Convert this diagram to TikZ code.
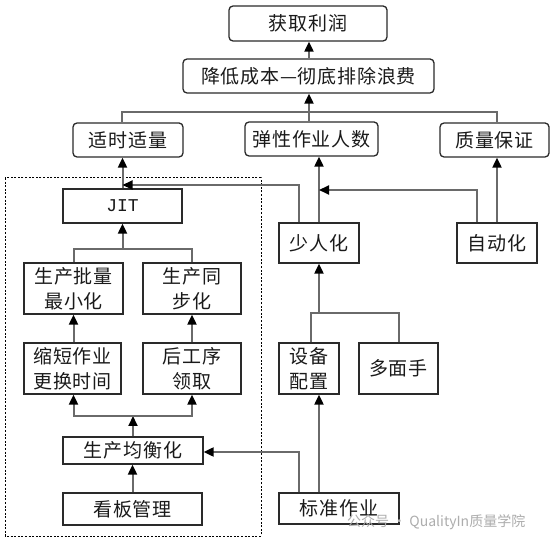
\documentclass[tikz,border=0pt]{standalone}
\usepackage{fontspec}
\newfontfamily\cjk[LetterSpace=4]{Noto Sans CJK SC}
\newfontfamily\cjkwm{Noto Sans CJK SC}
\newfontfamily\jitfont{Liberation Mono}
\usetikzlibrary{arrows.meta}
\definecolor{boxline}{HTML}{2A2A2A}
\definecolor{connline}{HTML}{6A6A6A}
\definecolor{txt}{HTML}{1A1A1A}
\begin{document}
\begin{tikzpicture}[x=1pt,y=-1pt,
  box/.style={draw=boxline, line width=1.3pt, fill=white, inner sep=0pt, align=center,
    font=\cjk\fontsize{19}{25}\selectfont, text=txt},
  rbox/.style={box, rounded corners=4pt},
  conn/.style={draw=connline, line width=2pt},
  arr/.style={conn, -{Triangle[length=10pt,width=9pt,color=black]}},
  dotbox/.style={draw=black, line width=1pt, dash pattern=on 2pt off 1.6pt}
]
\fill[white] (0,0) rectangle (552,545);
\useasboundingbox (0,0) rectangle (552,545);

% dotted JIT frame
\draw[dotbox] (5,178) rectangle (261,536);

% top rows
\node[rbox, minimum width=158pt, minimum height=35pt] (profit) at (308,23.5) {获取利润};
\node[rbox, minimum width=251pt, minimum height=34pt] (reduce) at (308.5,76) {降低成本—彻底排除浪费};
\node[rbox, minimum width=110pt, minimum height=34pt] (amount) at (128,140) {适时适量};
\node[rbox, minimum width=133pt, minimum height=34pt] (flex) at (311.5,139) {弹性作业人数};
\node[rbox, minimum width=109pt, minimum height=34pt] (quality) at (494.5,140) {质量保证};

% JIT side
\node[box, minimum width=119pt, minimum height=34pt, font=\jitfont\fontsize{18}{18}\selectfont] (jit) at (122.5,206) {JIT};
\node[box, minimum width=99pt, minimum height=51pt] (batch) at (73.5,288.5) {生产批量\\最小化};
\node[box, minimum width=98pt, minimum height=51pt] (sync) at (192,288.5) {生产同\\步化};
\node[box, minimum width=97pt, minimum height=51pt] (setup) at (72.5,368.5) {缩短作业\\更换时间};
\node[box, minimum width=98pt, minimum height=51pt] (pull) at (192,368.5) {后工序\\领取};
\node[box, minimum width=140pt, minimum height=27pt] (level) at (133,450.5) {生产均衡化};
\node[box, minimum width=139pt, minimum height=32pt] (kanban) at (132.5,509) {看板管理};

% right side
\node[box, minimum width=80pt, minimum height=40pt] (fewman) at (319,243) {少人化};
\node[box, minimum width=80pt, minimum height=40pt] (auto) at (497,243) {自动化};
\node[box, minimum width=60pt, minimum height=51pt] (equip) at (309,368.5) {设备\\配置};
\node[box, minimum width=79pt, minimum height=51pt] (multi) at (398.5,368.5) {多面手};
\node[box, minimum width=120pt, minimum height=31pt] (std) at (339,508.5) {标准作业};

% helper coordinates
\coordinate (b1) at (122,112);
\coordinate (b2) at (497,112);
\coordinate (b3) at (309,112);
\coordinate (c1) at (299,185);
\coordinate (c3) at (477,190);
\coordinate (d1) at (0,249);
\coordinate (e1) at (0,416);
\coordinate (f1) at (299,452);
\coordinate (f2) at (319,0);
\coordinate (g1) at (311,313);
\coordinate (g2) at (399,313);

% connectors
\draw[arr] (reduce.north -| b3) -- (profit.south -| b3);
\draw[conn] (amount.north -| b1) -- (b1) -- (b2) -- (quality.north -| b2);
\draw[arr] (flex.north -| b3) -- (reduce.south -| b3);

\draw[arr] (jit.north) -- (amount.south -| jit.north);
\draw[arr] (fewman.north -| c1) -- (c1) -- (c1 -| jit.north);
\draw[arr] (fewman.north) -- (flex.south -| fewman.north);
\draw[arr] (auto.north -| c3) -- (c3) -- (c3 -| fewman.north);
\draw[arr] (auto.north) -- (quality.south -| auto.north);

\draw[conn] (batch.north) -- (batch.north |- d1) -- (sync.north |- d1) -- (sync.north);
\draw[arr] (jit.south |- d1) -- (jit.south);
\draw[arr] (setup.north -| batch.north) -- (batch.south);
\draw[arr] (pull.north) -- (sync.south);

\draw[arr] (level.north) -- (level.north |- e1);
\draw[arr] (level.north |- e1) -| (setup.south -| batch.north);
\draw[arr] (level.north |- e1) -| (pull.south);
\draw[arr] (kanban.north) -- (level.south -| kanban.north);

\draw[arr] (std.north -| f1) -- (f1) -- (f1 -| level.east);
\draw[arr] (std.north -| f2) -- (equip.south -| f2);
\draw[conn] (equip.north -| g1) -- (g1) -- (g2) -- (multi.north -| g2);
\draw[arr] (fewman.south |- g1) -- (fewman.south);

% watermark
\node[anchor=west, inner sep=0pt, text=black!32, font=\cjkwm\fontsize{14}{14}\selectfont] (wm) at (347,522) {公众号 · QualityIn质量学院};
\end{tikzpicture}
\end{document}
